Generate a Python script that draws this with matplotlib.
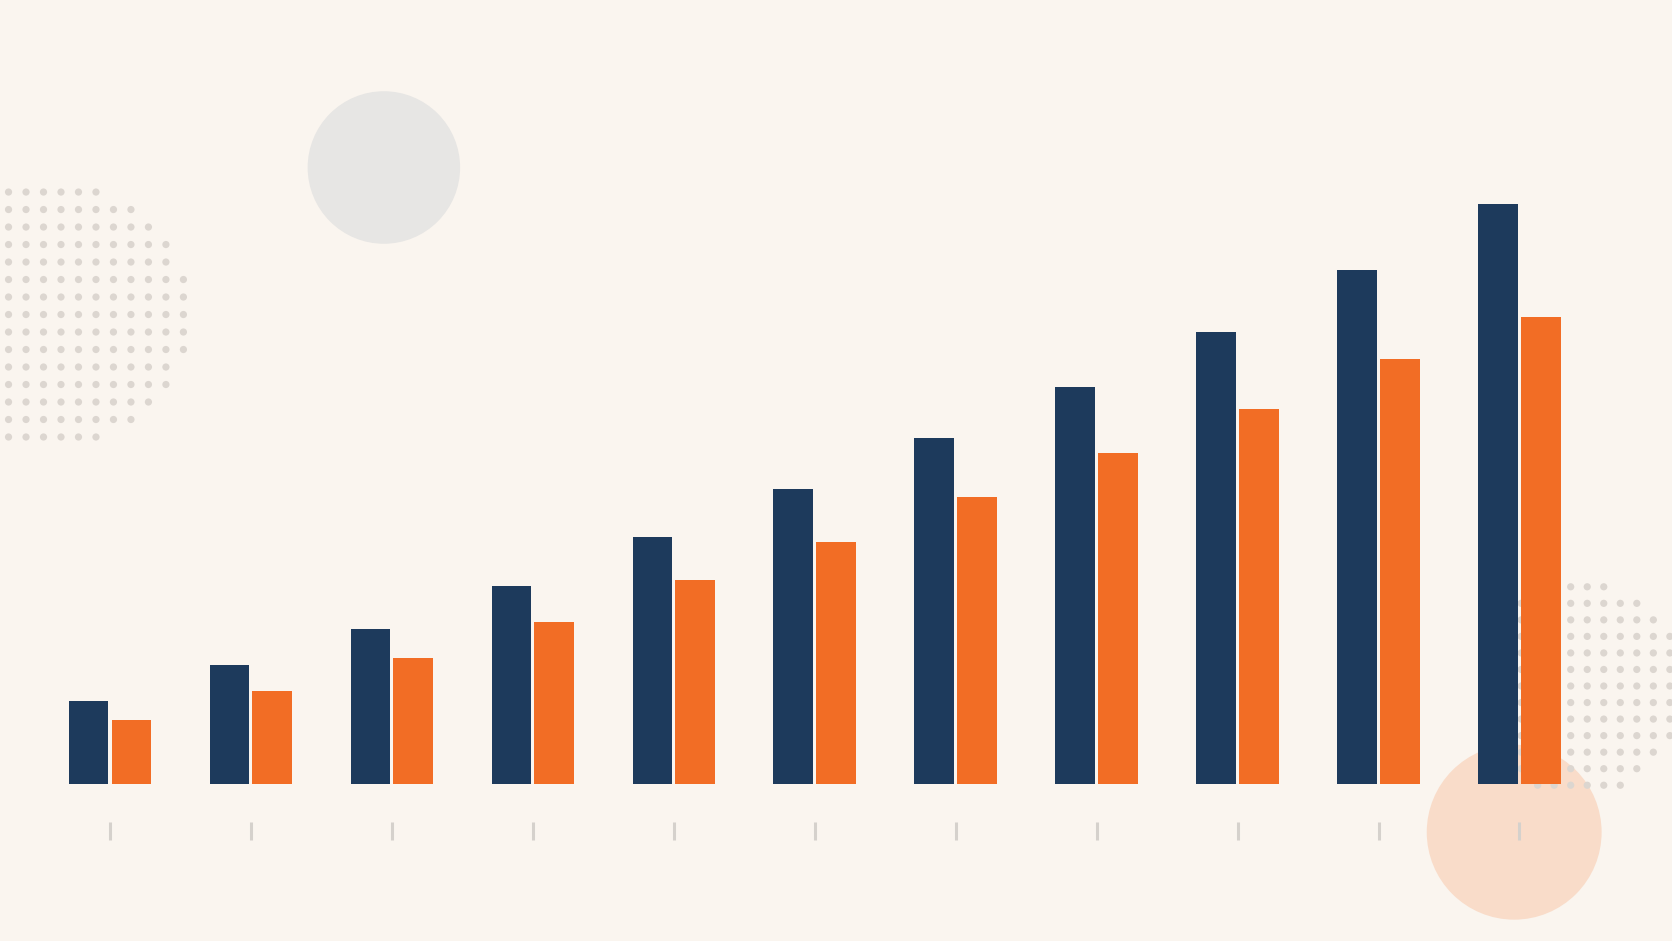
import numpy as np
import matplotlib
matplotlib.use("Agg")
import matplotlib.pyplot as plt
from matplotlib.patches import Circle

# ---- data ----
categories = ["1", "2", "3", "4", "5", "6", "7", "8", "9", "10", "11"]
series_a = [14.3, 20.6, 26.7, 34.2, 42.6, 50.9, 59.6, 68.4, 77.9, 88.6, 100.0]
series_b = [11.0, 16.0, 21.7, 27.9, 35.1, 41.7, 49.4, 57.0, 64.7, 73.3, 80.5]

# ---- style ----
BG = "#FAF5EF"
NAVY = "#1D3A5C"
ORANGE = "#F26D25"
TICK = "#D5D1CC"
DOT = "#DCD6D0"

fig = plt.figure(figsize=(16.72, 9.41), dpi=100, facecolor=BG)

# background decoration axes (display-like coords, 1568 x 882)
bg = fig.add_axes([0, 0, 1, 1], zorder=0)
bg.set_xlim(0, 1568)
bg.set_ylim(882, 0)
bg.axis("off")
bg.set_facecolor(BG)

bg.add_patch(Circle((360, 157), 71.5, color="#E7E6E4", ec="none"))
bg.add_patch(Circle((1420, 780), 82, color="#F9DCC9", ec="none"))

def dot_cluster(cx, cy, r, x0, y0, step):
    xs = np.arange(x0, cx + r + 1, step)
    ys = np.arange(y0, cy + r + 1, step)
    X, Y = np.meshgrid(xs, ys)
    m = (X - cx) ** 2 + (Y - cy) ** 2 <= r ** 2
    bg.scatter(X[m], Y[m], s=27, color=DOT, edgecolors="none")

dot_cluster(52, 294, 126, 8, 180, 16.4)
dot_cluster(1480, 645, 100, 1380, 550, 15.5)

# main chart axes
ax = fig.add_axes([0, 147 / 882, 1, 735 / 882], zorder=2)
ax.set_facecolor("none")
x = np.arange(len(categories))
w = 0.28
off = 0.152
ax.bar(x - off, series_a, w, color=NAVY, linewidth=0)
ax.bar(x + off, series_b, w, color=ORANGE, linewidth=0)

ax.set_xlim(-0.779, 11.082)
ax.set_ylim(0, 135.1)
ax.set_xticks(x)
ax.set_xticklabels(categories)
ax.set_yticks([])
for s in ax.spines.values():
    s.set_visible(False)
ax.spines["bottom"].set_position(("outward", 27))
ax.tick_params(axis="x", direction="out", length=13, width=2.2, color=TICK,
               labelbottom=False)

fig.savefig("out.png", dpi=100, facecolor=BG)
